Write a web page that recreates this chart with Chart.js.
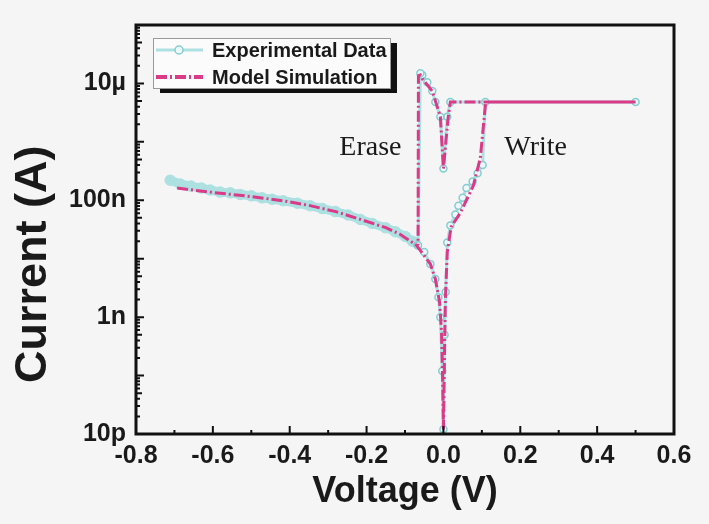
<!DOCTYPE html>
<html>
<head>
<meta charset="utf-8">
<script src="https://cdn.jsdelivr.net/npm/chart.js@4.4.1/dist/chart.umd.min.js"></script>
<style>
  html, body { margin: 0; padding: 0; background: #f5f5f5; }
  #wrap { width: 709px; height: 524px; }
</style>
</head>
<body>
<div id="wrap"><canvas id="ivChart"></canvas></div>
<script>
// measured sweep: -0.7 V -> 0 -> write -> 0.5 V -> back to 0 -> erase
const expVoltage = [
  -0.711, -0.685, -0.657, -0.63, -0.607, -0.581, -0.555, -0.529, -0.5, -0.472,
  -0.446, -0.417, -0.38, -0.347, -0.315, -0.281, -0.248, -0.216, -0.185, -0.151,
  -0.125, -0.099, -0.081, -0.068, -0.05, -0.034, -0.021, -0.013, -0.008, -0.003, 0,
  0.003, 0.006, 0.01, 0.018, 0.031, 0.039, 0.05, 0.06, 0.076, 0.089, 0.102, 0.109, 0.5,
  0.018, 0.01, 0, -0.008, -0.021, -0.029, -0.042, -0.055, -0.06, -0.066
];
const expCurrent = [
  2.2e-7, 1.9e-7, 1.75e-7, 1.62e-7, 1.5e-7, 1.38e-7, 1.34e-7, 1.26e-7, 1.19e-7, 1.1e-7,
  1.04e-7, 9.8e-8, 8.9e-8, 8.05e-8, 7.2e-8, 6.4e-8, 5.6e-8, 4.7e-8, 4.0e-8, 3.4e-8,
  2.9e-8, 2.4e-8, 2.0e-8, 1.7e-8, 1.3e-8, 8.1e-9, 4.5e-9, 2.2e-9, 1.0e-9, 1.2e-10, 1.2e-11,
  5e-10, 2.7e-9, 1.9e-8, 3.7e-8, 5.7e-8, 8.05e-8, 1.1e-7, 1.62e-7, 2.1e-7, 2.9e-7, 4e-7, 4.8e-6, 4.8e-6,
  4.8e-6, 2.7e-6, 3.5e-7, 2.7e-6, 4.8e-6, 7.4e-6, 1.05e-5, 1.4e-5, 1.5e-5, 1.7e-8
];

const modelVoltage = [
  -0.693, -0.608, -0.511, -0.417, -0.347, -0.28, -0.216, -0.15, -0.112, -0.07,
  -0.034, -0.021, -0.01, -0.005, -0.002, 0,
  0.002, 0.005, 0.01, 0.02, 0.044, 0.065, 0.078, 0.096, 0.11, 0.5,
  0.018, 0.012, 0, -0.008, -0.029, -0.055, -0.06, -0.065, -0.066
];
const modelCurrent = [
  1.62e-7, 1.38e-7, 1.18e-7, 9.8e-8, 8.1e-8, 6.4e-8, 4.7e-8, 3.4e-8, 2.6e-8, 1.7e-8,
  8.1e-9, 4.5e-9, 1.8e-9, 5.7e-10, 8e-11, 1.2e-11,
  1e-10, 2e-9, 1.3e-8, 3.5e-8, 6.1e-8, 1.18e-7, 1.8e-7, 5.3e-7, 4.8e-6, 4.8e-6,
  4.8e-6, 2.5e-6, 3.5e-7, 2.7e-6, 7.4e-6, 1.2e-5, 1.4e-5, 1.35e-5, 1.7e-8
];

const seriesNames = ["Experimental Data", "Model Simulation"];
const xTickValues = [-0.8, -0.6, -0.4, -0.2, 0, 0.2, 0.4, 0.6];
const xTickLabels = ["-0.8", "-0.6", "-0.4", "-0.2", "0.0", "0.2", "0.4", "0.6"];
const yTickValues = [1e-11, 1e-9, 1e-7, 1e-5];
const yTickLabels = ["10p", "1n", "100n", "10µ"];
const yTitle = "Current (A)";
const noteText = ["Erase", "Write"];
const noteVoltage = [-0.19, 0.24];
const noteCurrent = [6e-7, 6e-7];

const expColor = "#ade0e1";
const modelColor = "#da3a88";
const dashDot = [11, 3, 2, 3];
const haloEdge = -0.068; // left of this the dense points merge into a band

function toPoints(xs, ys) {
  return xs.map((x, i) => ({ x: x, y: ys[i] }));
}

// inward ticks, black frame, notes and the rotated y title
const frameTicks = {
  id: "frameTicks",
  afterDatasetsDraw(chart) {
    const { ctx, chartArea: a, scales } = chart;
    ctx.save();
    ctx.strokeStyle = "#111";
    ctx.lineWidth = 2;
    ctx.beginPath();
    for (let k = -8; k <= 6; k++) {
      const px = scales.x.getPixelForValue(k / 10);
      const len = k % 2 === 0 ? 8 : 4;
      ctx.moveTo(px, a.bottom);
      ctx.lineTo(px, a.bottom - len);
    }
    for (let e = -11; e <= -4; e++) {
      for (let m = 1; m <= 9; m++) {
        const v = m * Math.pow(10, e);
        if (v > 1.0001e-4) break;
        const py = scales.y.getPixelForValue(v);
        const len = m === 1 ? 8 : (m === 5 ? 6 : 4);
        ctx.moveTo(a.left, py);
        ctx.lineTo(a.left + len, py);
      }
    }
    ctx.stroke();
    ctx.lineWidth = 3;
    ctx.strokeRect(a.left, a.top, a.right - a.left, a.bottom - a.top);

    ctx.fillStyle = "#1a1a1a";
    ctx.font = "28px 'Liberation Serif', 'DejaVu Serif', serif";
    ctx.textAlign = "center";
    ctx.textBaseline = "alphabetic";
    noteText.forEach((t, i) => {
      ctx.fillText(t, scales.x.getPixelForValue(noteVoltage[i]), scales.y.getPixelForValue(noteCurrent[i]));
    });

    ctx.translate(34, a.top + (a.bottom - a.top) * 0.585);
    ctx.rotate(-Math.PI / 2);
    ctx.font = "bold 45px 'Liberation Sans', Arial, sans-serif";
    ctx.textBaseline = "middle";
    ctx.fillText(yTitle, 0, 0);
    ctx.restore();
  }
};

// boxed legend with a drop shadow
const boxLegend = {
  id: "boxLegend",
  afterDraw(chart) {
    const { ctx, chartArea: a } = chart;
    const x = a.left + 17, y = a.top + 13, w = 237, h = 50;
    ctx.save();
    ctx.fillStyle = "#111";
    ctx.fillRect(x + 7, y + 5, w, h);
    ctx.fillStyle = "#fbfbfb";
    ctx.fillRect(x, y, w, h);
    ctx.strokeStyle = "#9a9a9a";
    ctx.lineWidth = 1;
    ctx.strokeRect(x + 0.5, y + 0.5, w, h);
    ctx.font = "bold 20px 'Liberation Sans', Arial, sans-serif";
    ctx.textBaseline = "middle";
    chart.data.datasets.forEach((ds, i) => {
      const cy = y + 12 + i * 27;
      ctx.beginPath();
      ctx.strokeStyle = ds.borderColor;
      ctx.lineWidth = i === 0 ? 3 : 4;
      ctx.setLineDash(ds.borderDash || []);
      ctx.moveTo(x + 3, cy);
      ctx.lineTo(x + 50, cy);
      ctx.stroke();
      ctx.setLineDash([]);
      if (i === 0) {
        ctx.beginPath();
        ctx.arc(x + 26, cy, 4, 0, Math.PI * 2);
        ctx.fillStyle = "#eefafa";
        ctx.fill();
        ctx.lineWidth = 1.5;
        ctx.strokeStyle = "#86cdd0";
        ctx.stroke();
      }
      ctx.fillStyle = "#1a1a1a";
      ctx.fillText(ds.label, x + 59, cy + 1);
    });
    ctx.restore();
  }
};

const ctx = document.getElementById("ivChart");
const inHalo = (c) => c.raw && c.raw.x < haloEdge;

new Chart(ctx, {
  type: "scatter",
  data: {
    datasets: [
      {
        label: seriesNames[0],
        data: toPoints(expVoltage, expCurrent),
        showLine: true,
        borderColor: expColor,
        borderWidth: 3,
        pointRadius: (c) => (inHalo(c) ? 5 : 3.5),
        pointBorderWidth: 1.5,
        pointBorderColor: (c) => (inHalo(c) ? expColor : "#86cdd0"),
        pointBackgroundColor: (c) => (inHalo(c) ? expColor : "#eaf8f8"),
        segment: {
          borderWidth: (s) => (s.p0.parsed.x < haloEdge && s.p1.parsed.x < haloEdge ? 9 : 3),
        },
        order: 2,
      },
      {
        label: seriesNames[1],
        data: toPoints(modelVoltage, modelCurrent),
        showLine: true,
        borderColor: modelColor,
        borderWidth: 3,
        borderDash: dashDot,
        pointRadius: 0,
        order: 1,
      },
    ],
  },
  options: {
    responsive: true,
    maintainAspectRatio: false,
    animation: false,
    layout: { padding: { left: 0, top: 20, right: 35, bottom: 0 } },
    plugins: {
      legend: { display: false },
      tooltip: { enabled: false },
    },
    scales: {
      x: {
        type: "linear",
        min: -0.8,
        max: 0.6,
        afterBuildTicks: (scale) => {
          scale.ticks = xTickValues.map((v) => ({ value: v }));
        },
        afterFit: (scale) => {
          scale.height = 90;
        },
        grid: { display: false, drawTicks: false },
        border: { display: false },
        ticks: {
          autoSkip: false,
          maxRotation: 0,
          padding: 7,
          color: "#1a1a1a",
          font: { family: "'Liberation Sans', Arial, sans-serif", size: 25, weight: "bold" },
          callback: (v, i) => xTickLabels[i],
        },
        title: {
          display: true,
          text: "Voltage (V)",
          color: "#1a1a1a",
          padding: { top: 0, bottom: 10 },
          font: { family: "'Liberation Sans', Arial, sans-serif", size: 36, weight: "bold" },
        },
      },
      y: {
        type: "logarithmic",
        min: 1e-11,
        max: 1e-4,
        afterBuildTicks: (scale) => {
          scale.ticks = yTickValues.map((v) => ({ value: v }));
        },
        afterFit: (scale) => {
          scale.width = 136;
        },
        grid: { display: false, drawTicks: false },
        border: { display: false },
        ticks: {
          autoSkip: false,
          padding: 10,
          color: "#1a1a1a",
          font: { family: "'Liberation Sans', Arial, sans-serif", size: 25, weight: "bold" },
          callback: (v, i) => yTickLabels[i],
        },
      },
    },
  },
  plugins: [frameTicks, boxLegend],
});
</script>
</body>
</html>
